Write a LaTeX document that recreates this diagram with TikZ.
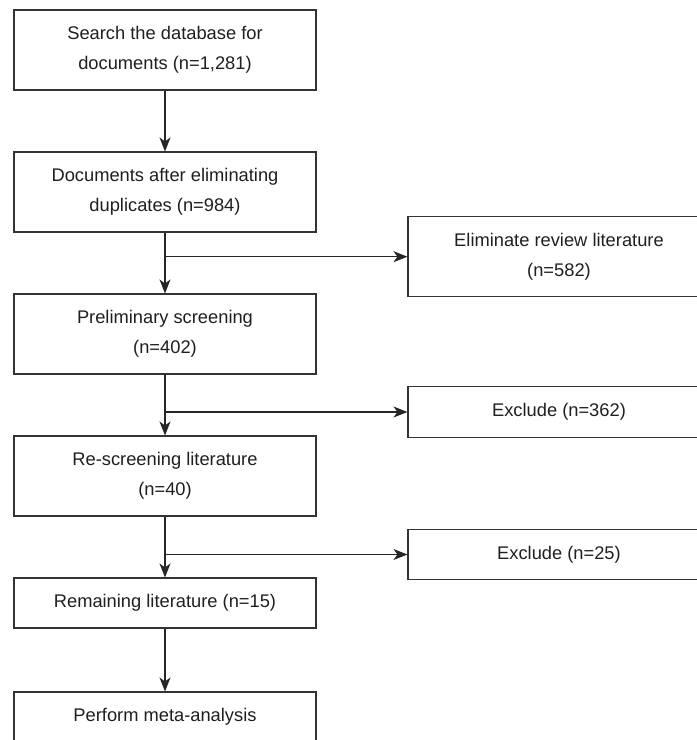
\documentclass[tikz,border=0pt]{standalone}
\usepackage{fontspec}
\setmainfont{Liberation Sans}
\usetikzlibrary{arrows.meta}
\begin{document}
\begin{tikzpicture}[x=1pt,y=1pt,
  box/.style={draw=black!80, line width=1.1pt, minimum width=302pt, align=center, inner sep=0pt,
    font=\fontsize{18.3}{30}\selectfont, text=black!88},
  tall/.style={box, minimum height=80pt},
  short/.style={box, minimum height=50.5pt},
  conn/.style={draw=black!85, line width=1.1pt, -{Stealth[length=14pt,width=11pt,inset=4pt]}}]
\useasboundingbox (0,0) rectangle (697,-740);
\node[tall] (b1) at (165,-50) {Search the database for\\documents (n=1,281)};
\node[tall] (b2) at (165,-192) {Documents after eliminating\\duplicates (n=984)};
\node[tall] (b3) at (165,-334) {Preliminary screening\\(n=402)};
\node[tall] (b4) at (165,-476) {Re-screening literature\\(n=40)};
\node[short, minimum height=50pt] (b5) at (165,-603) {Remaining literature (n=15)};
\node[short, minimum height=50pt] (b6) at (165,-717) {Perform meta-analysis};
\node[tall] (r1) at (559,-256.7) {Eliminate review literature\\(n=582)};
\node[short] (r2) at (559,-412) {Exclude (n=362)};
\node[short] (r3) at (559,-554.5) {Exclude (n=25)};
\draw[conn] (b1.south) -- (b2.north);
\draw[conn] (b2.south) -- (b3.north);
\draw[conn] (b3.south) -- (b4.north);
\draw[conn] (b4.south) -- (b5.north);
\draw[conn] (b5.south) -- (b6.north);
\draw[conn] (b2.south |- r1.west) -- (r1.west);
\draw[conn] (b3.south |- r2.west) -- (r2.west);
\draw[conn] (b4.south |- r3.west) -- (r3.west);
\end{tikzpicture}
\end{document}
